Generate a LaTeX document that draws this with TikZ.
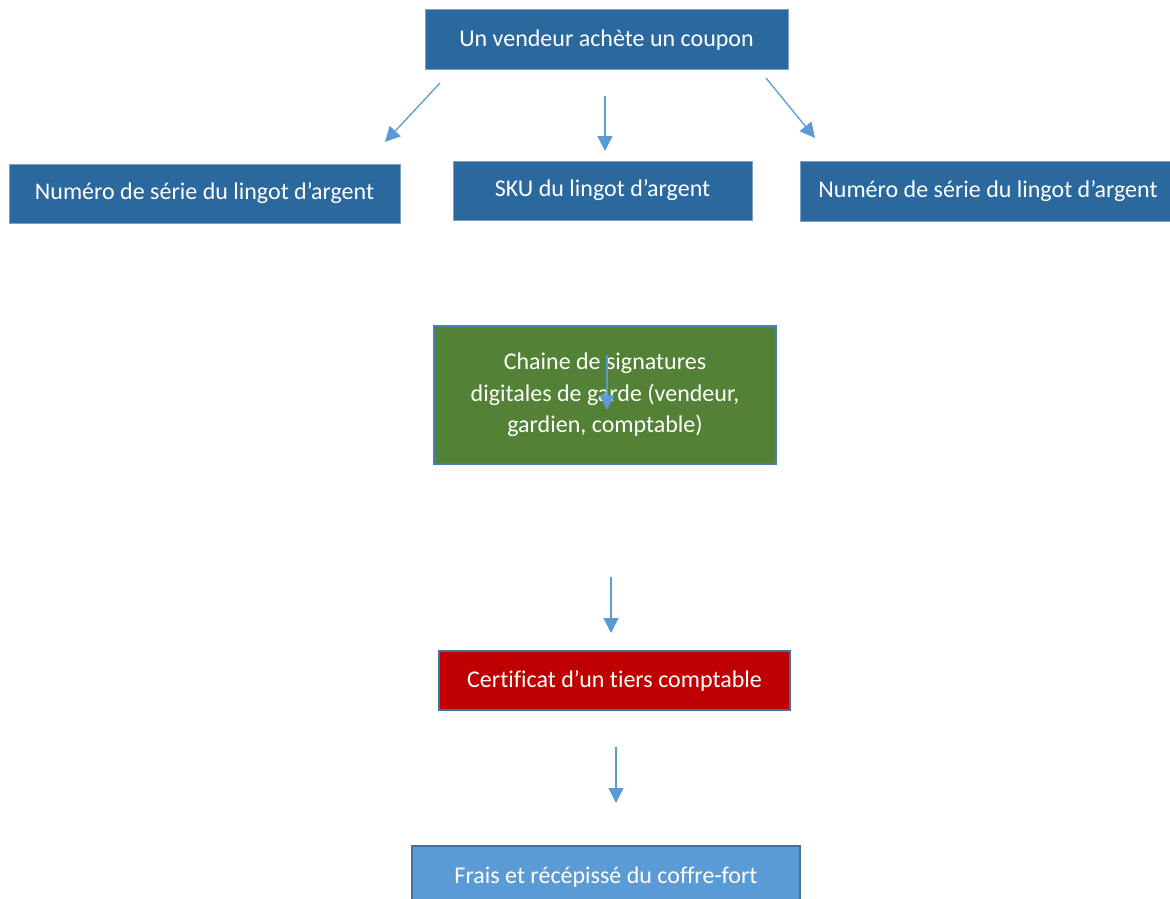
\documentclass[tikz,border=0pt]{standalone}
\usepackage{fontspec}
\setmainfont{Carlito}[Ligatures=NoCommon]
\usetikzlibrary{arrows.meta}
\definecolor{boxblue}{HTML}{2B689E}
\definecolor{boxedge}{HTML}{7E9FC8}
\definecolor{boxgreen}{HTML}{538135}
\definecolor{greenedge}{HTML}{4A7EBB}
\definecolor{boxred}{HTML}{C00000}
\definecolor{rededge}{HTML}{41719C}
\definecolor{boxlight}{HTML}{5B9BD5}
\definecolor{lightedge}{HTML}{41719C}
\definecolor{arrowblue}{HTML}{5B9BD5}
\begin{document}
\begin{tikzpicture}[x=1pt,y=-1pt,
  every node/.style={inner sep=0pt,outer sep=0pt,text=white,font=\fontsize{24}{31.5}\selectfont},
  bluebox/.style={draw=boxedge,line width=1pt,fill=boxblue,rectangle},
  flowarrow/.style={draw=arrowblue,line width=1.3pt,-{Triangle[width=15pt,length=15pt]}}]
\useasboundingbox (0,0) rectangle (1170,899);
\begin{scope}
\clip (0,0) rectangle (1170,899);
% boxes
\node[bluebox,minimum width=363pt,minimum height=60pt] (top) at (606.5,40) {\raisebox{-1.5pt}{Un vendeur achète un coupon}};
\node[bluebox,minimum width=391pt,minimum height=59pt] (left) at (204.5,193.5) {\raisebox{-1pt}{Numéro de série du lingot d’argent}};
\node[bluebox,minimum width=299pt,minimum height=59pt] (mid) at (602.5,190.5) {\raisebox{-1.5pt}{SKU du lingot d’argent}};
\node[bluebox,minimum width=376pt,minimum height=60pt] (right) at (988,191) {\raisebox{-1pt}{Numéro de série du lingot d’argent}};
\node[draw=greenedge,line width=1.6pt,fill=boxgreen,minimum width=342pt,minimum height=138pt,align=center] (green) at (605,395) {Chaine de signatures\\digitales de garde (vendeur,\\gardien, comptable)};
\node[draw=rededge,line width=1.6pt,fill=boxred,minimum width=351pt,minimum height=59pt] (red) at (614.5,680.5) {\raisebox{-1pt}{Certificat d’un tiers comptable}};
\node[draw=lightedge,line width=1.6pt,fill=boxlight,minimum width=388pt,minimum height=70pt,anchor=north] (bottom) at (606,846) {};
\node (bottomtext) at (606,877) {Frais et récépissé du coffre-fort};
% arrow coordinates
\coordinate (a1s) at (440,83);   \coordinate (a1e) at (385,142);
\coordinate (a2s) at (605,96);   \coordinate (a2e) at (605,151);
\coordinate (a3s) at (766,78);   \coordinate (a3e) at (815,138);
\coordinate (a4s) at (607,355);  \coordinate (a4e) at (607,410);
\coordinate (a5s) at (611,577);  \coordinate (a5e) at (611,633);
\coordinate (a6s) at (616,747);  \coordinate (a6e) at (616,803);
\draw[flowarrow] (a1s) -- (a1e);
\draw[flowarrow] (a2s) -- (a2e);
\draw[flowarrow] (a3s) -- (a3e);
\draw[flowarrow] (a4s) -- (a4e);
\draw[flowarrow] (a5s) -- (a5e);
\draw[flowarrow] (a6s) -- (a6e);
\end{scope}
\end{tikzpicture}
\end{document}
